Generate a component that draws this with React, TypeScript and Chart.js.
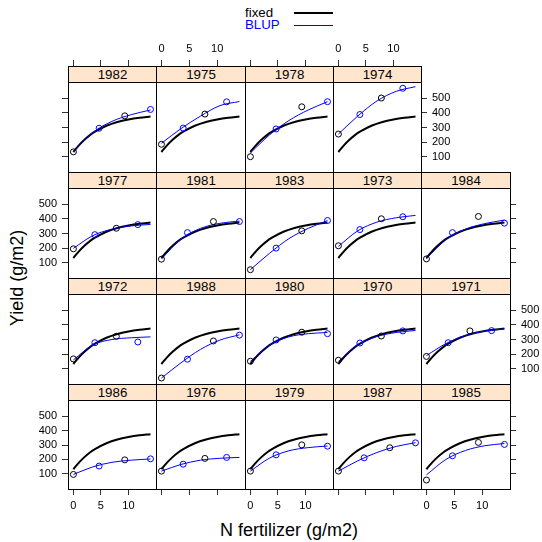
import React, { useEffect, useRef } from "react";
import { Chart, registerables } from "chart.js";

Chart.register(...registerables);

// ---- data ----
const ratesA = [0, 4.67, 9.33, 14];
const ratesB = [0, 3.9, 7.8, 11.7];
const curveN = [0, 3.5, 7, 10.5, 14];
const fixedN = [0, 1, 2, 3, 4, 6, 8, 10, 12, 14];
const fixedYield = [132, 178, 216, 248, 273, 312, 338, 355, 367, 375];
const xTickValues = [0, 5, 10];
const yTickValues = [100, 200, 300, 400, 500];
const xLimits = [-0.98, 15];
const yLimits = [-5, 612];

const obs1982 = [133, 295, 380, 424];
const blup1982 = [135, 265, 342, 388, 420];
const obs1975 = [185, 296, 392, 476];
const blup1975 = [192, 292, 378, 450, 478];
const obs1978 = [100, 290, 442, 477];
const blup1978 = [126, 250, 348, 420, 477];
const obs1974 = [255, 389, 502, 569];
const blup1974 = [255, 378, 482, 548, 580];

const obs1977 = [195, 292, 336, 361];
const blup1977 = [198, 285, 330, 352, 362];
const obs1981 = [124, 306, 382, 382];
const blup1981 = [125, 262, 335, 370, 385];
const obs1983 = [52, 200, 318, 389];
const blup1983 = [52, 165, 265, 335, 389];
const obs1973 = [216, 327, 401, 415];
const blup1973 = [212, 318, 378, 408, 424];
const obs1984 = [126, 306, 417, 371];
const blup1984 = [128, 258, 330, 368, 392];

const obs1972 = [167, 278, 322, 283];
const blup1972 = [160, 262, 300, 312, 318];
const obs1988 = [36, 165, 290, 330];
const blup1988 = [36, 140, 232, 296, 332];
const obs1980 = [151, 297, 350, 340];
const blup1980 = [150, 262, 318, 340, 348];
const obs1970 = [158, 276, 324, 359];
const blup1970 = [150, 262, 320, 348, 362];
const obs1971 = [184, 278, 359, 361];
const blup1971 = [190, 272, 328, 358, 373];

const obs1986 = [96, 154, 197, 204];
const blup1986 = [96, 148, 180, 195, 203];
const obs1976 = [119, 167, 207, 214];
const blup1976 = [119, 165, 195, 208, 214];
const obs1979 = [119, 232, 301, 292];
const blup1979 = [119, 210, 260, 282, 293];
const obs1987 = [119, 211, 281, 315];
const blup1987 = [119, 190, 248, 290, 316];
const obs1985 = [57, 225, 318, 304];
const blup1985 = [93, 200, 262, 295, 310];

type PanelSpec = { year: string; n: number[]; obs: number[]; blup: number[] };

const panelRows: PanelSpec[][] = [
  [
    { year: "1982", n: ratesA, obs: obs1982, blup: blup1982 },
    { year: "1975", n: ratesB, obs: obs1975, blup: blup1975 },
    { year: "1978", n: ratesA, obs: obs1978, blup: blup1978 },
    { year: "1974", n: ratesB, obs: obs1974, blup: blup1974 },
  ],
  [
    { year: "1977", n: ratesB, obs: obs1977, blup: blup1977 },
    { year: "1981", n: ratesA, obs: obs1981, blup: blup1981 },
    { year: "1983", n: ratesA, obs: obs1983, blup: blup1983 },
    { year: "1973", n: ratesB, obs: obs1973, blup: blup1973 },
    { year: "1984", n: ratesA, obs: obs1984, blup: blup1984 },
  ],
  [
    { year: "1972", n: ratesB, obs: obs1972, blup: blup1972 },
    { year: "1988", n: ratesA, obs: obs1988, blup: blup1988 },
    { year: "1980", n: ratesA, obs: obs1980, blup: blup1980 },
    { year: "1970", n: ratesB, obs: obs1970, blup: blup1970 },
    { year: "1971", n: ratesB, obs: obs1971, blup: blup1971 },
  ],
  [
    { year: "1986", n: ratesA, obs: obs1986, blup: blup1986 },
    { year: "1976", n: ratesB, obs: obs1976, blup: blup1976 },
    { year: "1979", n: ratesA, obs: obs1979, blup: blup1979 },
    { year: "1987", n: ratesA, obs: obs1987, blup: blup1987 },
    { year: "1985", n: ratesA, obs: obs1985, blup: blup1985 },
  ],
];

// ---- layout ----
const FONT = '"Liberation Sans", Arial, Helvetica, sans-serif';
const COL_EDGES = [68, 156, 245, 333, 421, 510];
const ROW_TOPS = [66, 172, 278, 384];
const PLOT_BOTTOM = 489;
const STRIP_H = 16;
const ML = 50, MR = 50, MT = 40, MB = 30;
const BLUE = "#0000ff";

Chart.defaults.font.family = FONT;

type Mode = "none" | "ticks" | "labels";

function makeAxis(position: string, mode: Mode, size: number, tickValues: number[], lim: number[], tickLen: number) {
  const horizontal = position === "top" || position === "bottom";
  return {
    type: "linear",
    position,
    min: lim[0],
    max: lim[1],
    afterBuildTicks: (s: any) => {
      s.ticks = tickValues.map((v) => ({ value: v }));
    },
    afterFit: (s: any) => {
      if (horizontal) s.height = size;
      else s.width = size;
    },
    border: { display: true, color: "#000", width: 1 },
    grid: {
      display: mode !== "none",
      drawOnChartArea: false,
      drawTicks: true,
      tickLength: tickLen,
      color: "#333",
      lineWidth: 1,
    },
    ticks: {
      display: mode !== "none",
      color: mode === "labels" ? "#000" : "rgba(0,0,0,0)",
      padding: horizontal ? 4 : 5,
      font: { size: 11, family: FONT },
      maxRotation: 0,
      minRotation: 0,
      autoSkip: false,
      callback: (v: any) => String(v),
    },
  };
}

function Panel({ spec, r, c, rightmost }: { spec: PanelSpec; r: number; c: number; rightmost: boolean }) {
  const ref = useRef<HTMLCanvasElement>(null);
  const left = COL_EDGES[c];
  const right = COL_EDGES[c + 1];
  const top = ROW_TOPS[r] + STRIP_H;
  const bottom = r < 3 ? ROW_TOPS[r + 1] : PLOT_BOTTOM;
  const w = right - left + ML + MR;
  const h = bottom - top + MT + MB;

  useEffect(() => {
    if (!ref.current) return;
    const bottomMode: Mode = r === 3 ? (c % 2 === 0 ? "labels" : "ticks") : "none";
    const topMode: Mode = r === 0 ? (c % 2 === 1 ? "labels" : "ticks") : "none";
    const leftMode: Mode = c === 0 ? (r % 2 === 1 ? "labels" : "ticks") : "none";
    const rightMode: Mode = rightmost ? (r % 2 === 0 ? "labels" : "ticks") : "none";

    const pts = spec.obs.map((y, i) => ({ x: spec.n[i], y }));
    const chart = new Chart(ref.current, {
      type: "line",
      data: {
        datasets: [
          {
            data: pts.filter((_, i) => i % 2 === 0),
            showLine: false,
            pointRadius: 3,
            pointBorderWidth: 1,
            pointBorderColor: "#000",
            pointBackgroundColor: "rgba(0,0,0,0)",
            borderColor: "#000",
            xAxisID: "x",
            yAxisID: "y",
          },
          {
            data: pts.filter((_, i) => i % 2 === 1),
            showLine: false,
            pointRadius: 3,
            pointBorderWidth: 1,
            pointBorderColor: BLUE,
            pointBackgroundColor: "rgba(0,0,0,0)",
            borderColor: BLUE,
            xAxisID: "x",
            yAxisID: "y",
          },
          {
            data: curveN.map((x, i) => ({ x, y: spec.blup[i] })),
            borderColor: BLUE,
            borderWidth: 1,
            pointRadius: 0,
            fill: false,
            cubicInterpolationMode: "monotone",
            xAxisID: "x",
            yAxisID: "y",
          },
          {
            data: fixedN.map((x, i) => ({ x, y: fixedYield[i] })),
            borderColor: "#000",
            borderWidth: 2,
            pointRadius: 0,
            fill: false,
            cubicInterpolationMode: "monotone",
            xAxisID: "x",
            yAxisID: "y",
          },
        ],
      },
      options: {
        responsive: false,
        maintainAspectRatio: false,
        animation: false,
        devicePixelRatio: 1,
        events: [],
        layout: { padding: 0, autoPadding: false },
        plugins: { legend: { display: false }, tooltip: { enabled: false }, title: { display: false } },
        scales: {
          x: makeAxis("bottom", bottomMode, MB, xTickValues, xLimits, 6),
          x2: makeAxis("top", topMode, MT, xTickValues, xLimits, 22),
          y: makeAxis("left", leftMode, ML, yTickValues, yLimits, 6),
          y2: makeAxis("right", rightMode, MR, yTickValues, yLimits, 6),
        } as any,
      },
    } as any);
    return () => chart.destroy();
  }, []);

  return (
    <>
      <canvas
        ref={ref}
        width={w}
        height={h}
        style={{ position: "absolute", left: left - ML, top: top - MT, width: w, height: h, zIndex: 1 }}
      />
      <div
        style={{
          position: "absolute",
          left,
          top: ROW_TOPS[r],
          width: right - left + 1,
          height: STRIP_H + 1,
          boxSizing: "border-box",
          border: "1px solid #000",
          background: "#ffe5cc",
          zIndex: 2,
          fontFamily: FONT,
          fontSize: 13.3,
          lineHeight: STRIP_H - 1 + "px",
          textAlign: "center",
          color: "#000",
        }}
      >
        {spec.year}
      </div>
    </>
  );
}

export default function App() {
  return (
    <div
      style={{
        position: "fixed",
        left: 0,
        top: 0,
        width: 542,
        height: 542,
        background: "#fff",
        fontFamily: FONT,
        overflow: "hidden",
      }}
    >
      {/* legend */}
      <div style={{ position: "absolute", left: 245, top: 5, fontSize: 13.3, lineHeight: "16px", color: "#000" }}>fixed</div>
      <div style={{ position: "absolute", left: 294, top: 12, width: 39, height: 2, background: "#000" }} />
      <div style={{ position: "absolute", left: 245, top: 17, fontSize: 13.3, lineHeight: "16px", color: BLUE }}>BLUP</div>
      <div style={{ position: "absolute", left: 294, top: 25, width: 39, height: 1, background: BLUE }} />

      {panelRows.map((row, r) =>
        row.map((spec, c) => (
          <Panel key={spec.year} spec={spec} r={r} c={c} rightmost={c === row.length - 1} />
        ))
      )}

      {/* axis titles */}
      <div
        style={{
          position: "absolute",
          left: 17,
          top: 278,
          transform: "translate(-50%, -50%) rotate(-90deg)",
          whiteSpace: "nowrap",
          fontSize: 18,
          lineHeight: "18px",
        }}
      >
        Yield (g/m2)
      </div>
      <div
        style={{
          position: "absolute",
          left: 289,
          top: 530,
          transform: "translate(-50%, -50%)",
          whiteSpace: "nowrap",
          fontSize: 18,
          lineHeight: "18px",
        }}
      >
        N fertilizer (g/m2)
      </div>
    </div>
  );
}
